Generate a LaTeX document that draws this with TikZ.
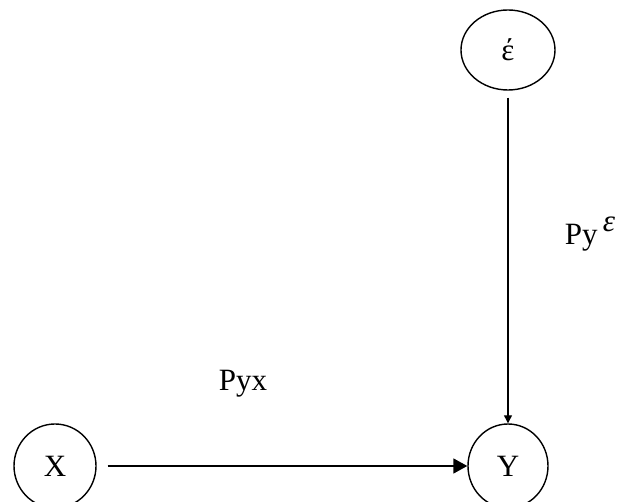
\documentclass[tikz,border=0pt]{standalone}
\usepackage{fontspec}
\setmainfont{Liberation Serif}
\usetikzlibrary{arrows.meta, shapes.geometric}

\begin{document}
\begin{tikzpicture}[x=1pt, y=-1pt,
    var/.style={ellipse, draw, line width=1.4pt, inner sep=0pt},
    lab/.style={font=\fontsize{31}{36}\selectfont}]
    % --- frame of the page ---
    \useasboundingbox (0,0) rectangle (641,502);

    % --- the three variables ---
    \node[var, minimum width=94pt, minimum height=80pt, lab] (eps) at (508,50) {έ};
    \node[var, minimum width=82pt, minimum height=84pt, lab] (X) at (55,466) {X};
    \node[var, minimum width=80pt, minimum height=84pt, lab] (Y) at (508,466) {Y};

    % --- paths into Y ---
    \draw[line width=1.2pt, -{Triangle[length=8pt, width=8pt]}, shorten <=7pt]
      (eps) -- (Y);
    \draw[line width=1.8pt, -{Triangle[length=14pt, width=15pt]}, shorten <=11pt]
      (X) -- (Y);

    % --- path coefficients ---
    \node[lab] (pyx) at (243,384) {Pyx};
    \node[lab] (pye) at (590,234) {Py\,\raisebox{0.42em}{\textit{ε}}};
\end{tikzpicture}
\end{document}
